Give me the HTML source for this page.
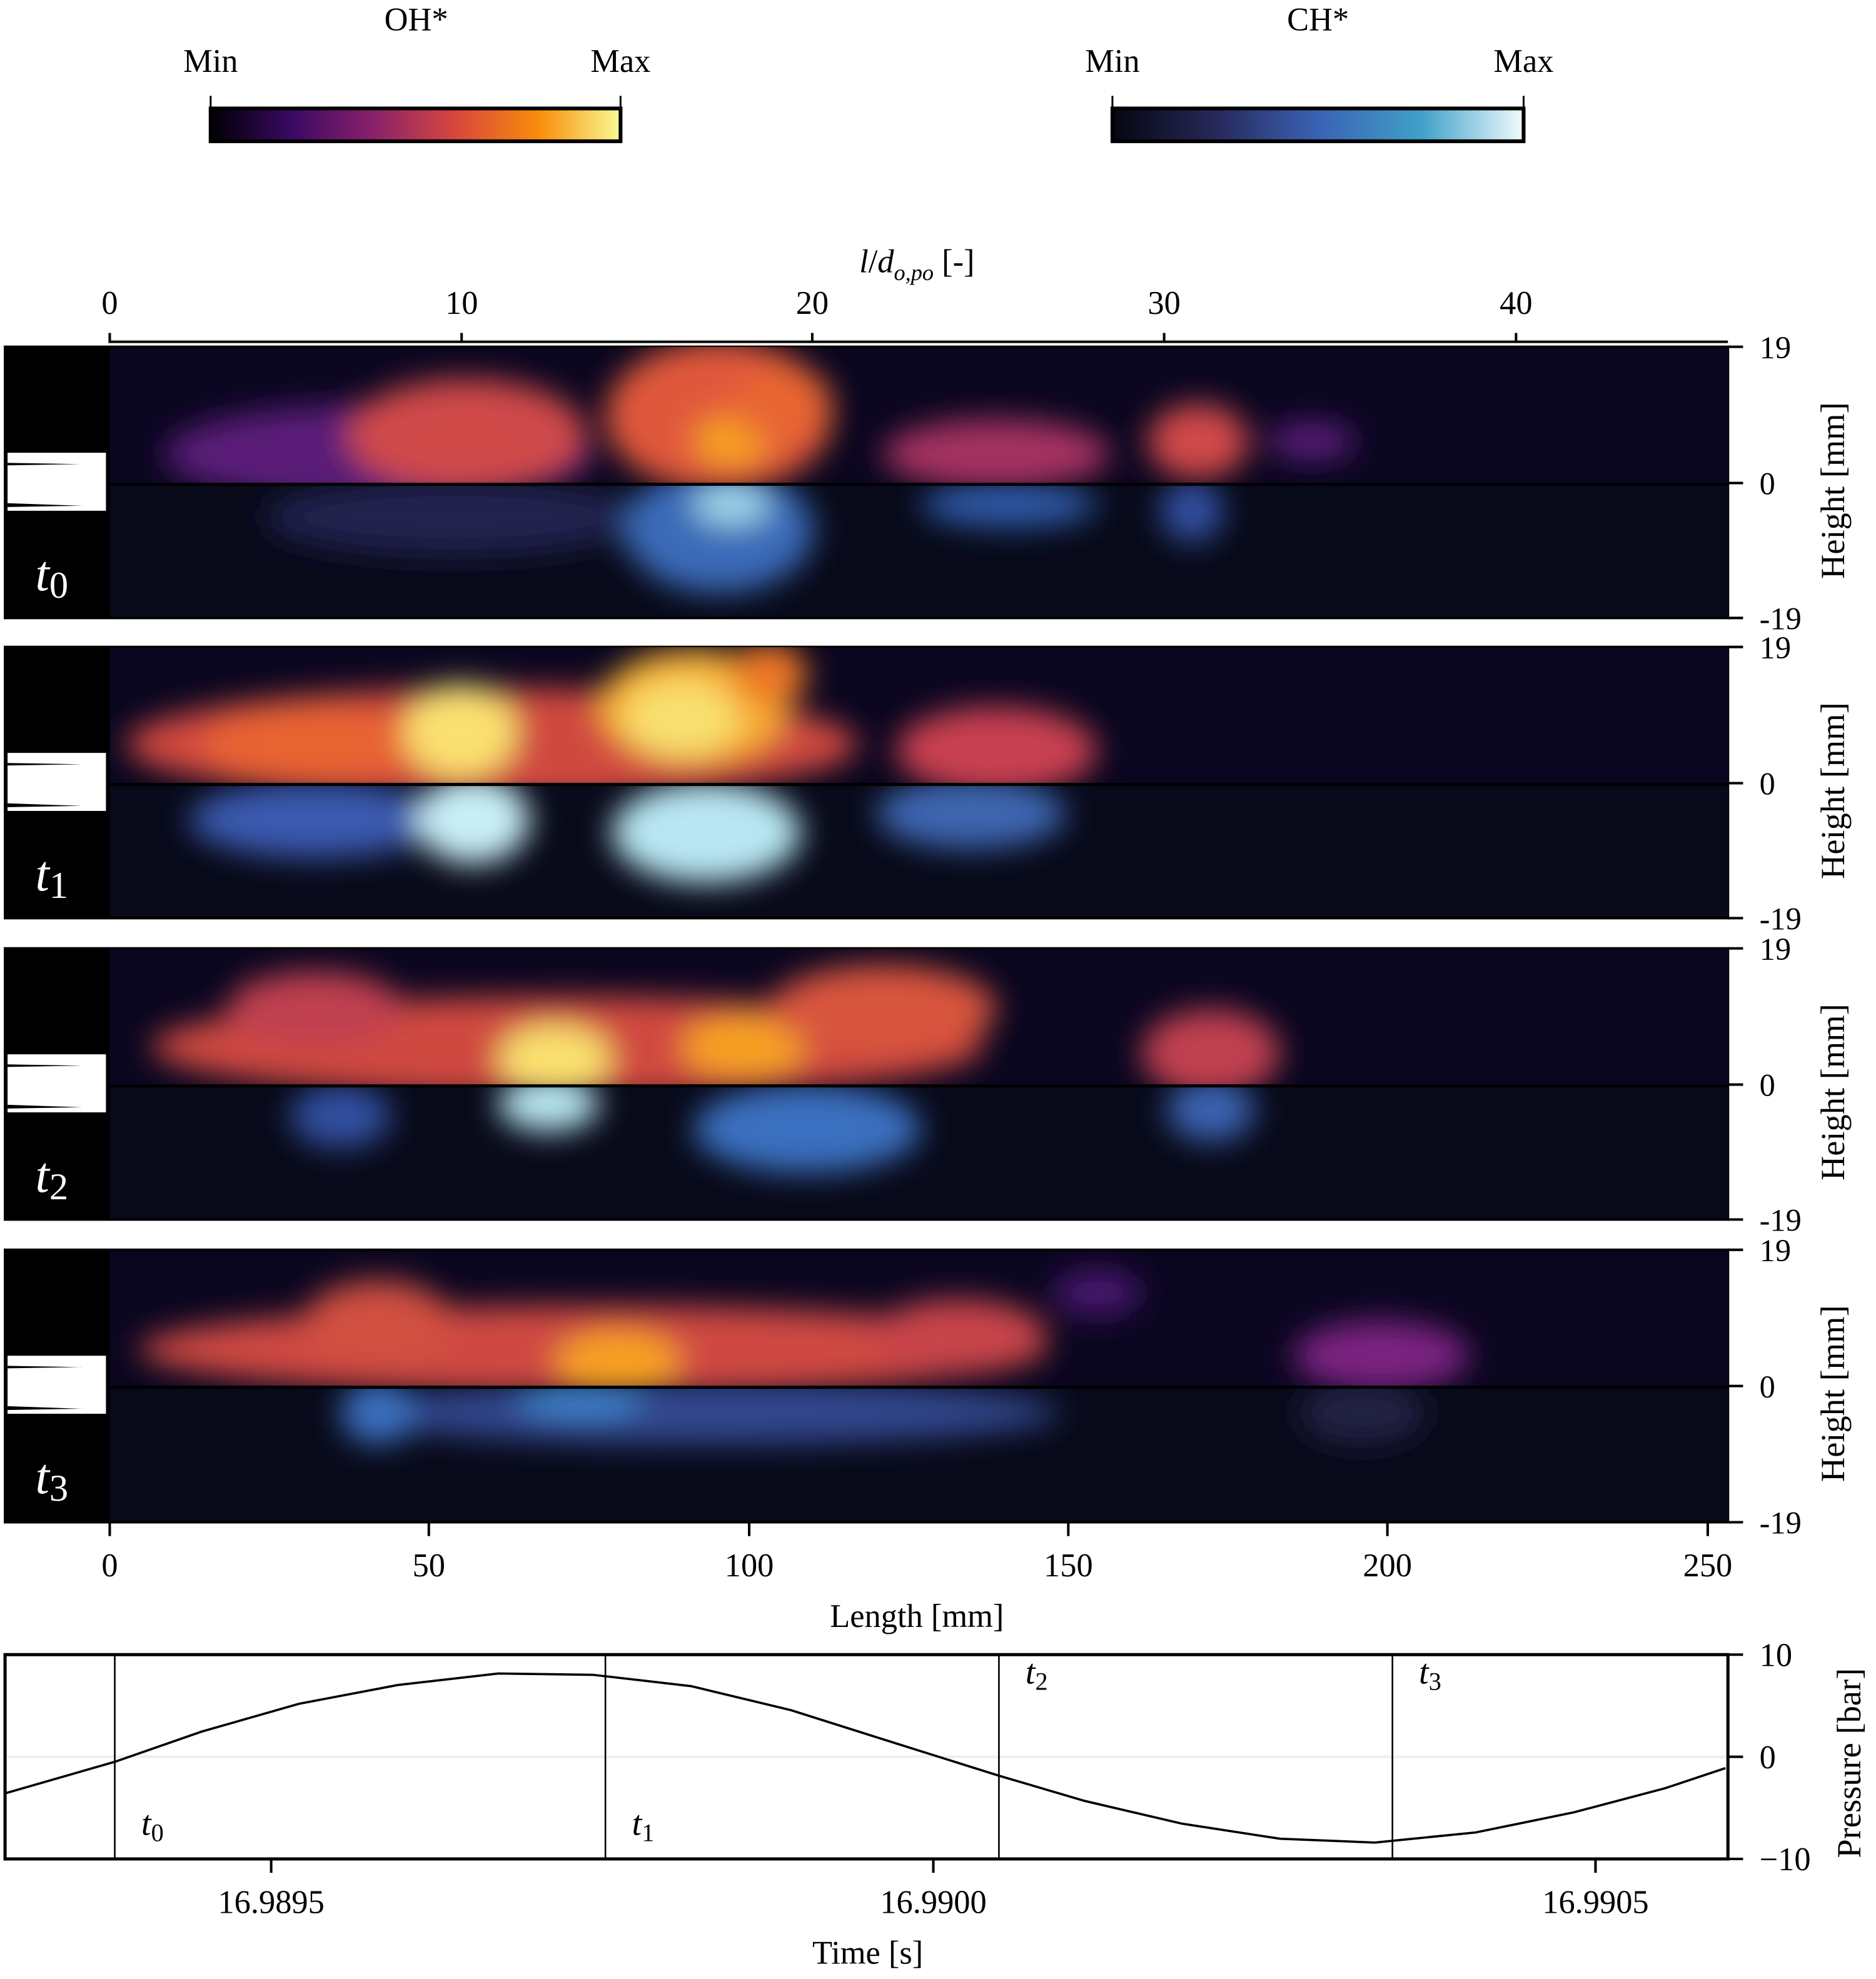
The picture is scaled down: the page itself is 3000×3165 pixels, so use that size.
<!DOCTYPE html>
<html><head><meta charset="utf-8"><style>html,body{margin:0;padding:0;background:#fff}svg{display:block}</style></head>
<body>
<svg xmlns="http://www.w3.org/2000/svg" width="3000" height="3165" viewBox="0 0 1487.4 1569.2" font-family="Liberation Serif, serif" font-size="26">
<defs>
<linearGradient id="inf" x1="0" x2="1"><stop offset="0" stop-color="#000004"/><stop offset="0.2" stop-color="#3b0964"/><stop offset="0.4" stop-color="#8a226a"/><stop offset="0.6" stop-color="#d8473c"/><stop offset="0.8" stop-color="#f98c0a"/><stop offset="1" stop-color="#f8fb94"/></linearGradient>
<linearGradient id="ch" x1="0" x2="1"><stop offset="0" stop-color="#05060f"/><stop offset="0.25" stop-color="#27285a"/><stop offset="0.5" stop-color="#3a62b4"/><stop offset="0.75" stop-color="#3fa0c8"/><stop offset="1" stop-color="#f0fbfd"/></linearGradient>
<filter id="b" x="-50%" y="-50%" width="200%" height="200%"><feGaussianBlur stdDeviation="12"/></filter>
<clipPath id="u0"><rect x="87" y="275" width="1283" height="108"/></clipPath>
<clipPath id="l0"><rect x="87" y="384" width="1283" height="106"/></clipPath>
<clipPath id="u1"><rect x="87" y="513" width="1283" height="108"/></clipPath>
<clipPath id="l1"><rect x="87" y="622" width="1283" height="106"/></clipPath>
<clipPath id="u2"><rect x="87" y="752" width="1283" height="108"/></clipPath>
<clipPath id="l2"><rect x="87" y="861" width="1283" height="106"/></clipPath>
<clipPath id="u3"><rect x="87" y="991" width="1283" height="108"/></clipPath>
<clipPath id="l3"><rect x="87" y="1100" width="1283" height="107"/></clipPath>
</defs>

<text x="330" y="24" text-anchor="middle">OH*</text>
<text x="167" y="57" text-anchor="middle">Min</text>
<text x="492" y="57" text-anchor="middle">Max</text>
<rect x="167" y="86" width="325" height="26" fill="url(#inf)" stroke="#000" stroke-width="3"/>
<line x1="167" y1="76" x2="167" y2="86" stroke="#000" stroke-width="1.5"/><line x1="492" y1="76" x2="492" y2="86" stroke="#000" stroke-width="1.5"/>
<text x="1045" y="24" text-anchor="middle">CH*</text>
<text x="882" y="57" text-anchor="middle">Min</text>
<text x="1208" y="57" text-anchor="middle">Max</text>
<rect x="882" y="86" width="326" height="26" fill="url(#ch)" stroke="#000" stroke-width="3"/>
<line x1="882" y1="76" x2="882" y2="86" stroke="#000" stroke-width="1.5"/><line x1="1208" y1="76" x2="1208" y2="86" stroke="#000" stroke-width="1.5"/>

<text x="727" y="216" text-anchor="middle"><tspan font-style="italic">l</tspan>/<tspan font-style="italic">d</tspan><tspan font-style="italic" font-size="18" dy="6">o,po</tspan><tspan dy="-6"> [-]</tspan></text>
<g text-anchor="middle"><text x="87" y="249">0</text><text x="366" y="249">10</text><text x="644" y="249">20</text><text x="923" y="249">30</text><text x="1202" y="249">40</text></g>
<line x1="87" y1="271" x2="1370" y2="271" stroke="#000" stroke-width="2"/>
<g stroke="#000" stroke-width="2"><line x1="87" y1="264" x2="87" y2="272"/><line x1="366" y1="264" x2="366" y2="272"/><line x1="644" y1="264" x2="644" y2="272"/><line x1="923" y1="264" x2="923" y2="272"/><line x1="1202" y1="264" x2="1202" y2="272"/></g>

<g>
<rect x="3" y="274" width="1368" height="217" fill="#000"/>
<rect x="87" y="276" width="1283" height="107" fill="#0a0620"/><rect x="87" y="385" width="1283" height="104" fill="#080a1a"/>
<rect x="3" y="512" width="1368" height="217" fill="#000"/>
<rect x="87" y="514" width="1283" height="107" fill="#0a0620"/><rect x="87" y="623" width="1283" height="104" fill="#080a1a"/>
<rect x="3" y="751" width="1368" height="217" fill="#000"/>
<rect x="87" y="753" width="1283" height="107" fill="#0a0620"/><rect x="87" y="862" width="1283" height="104" fill="#080a1a"/>
<rect x="3" y="990" width="1368" height="218" fill="#000"/>
<rect x="87" y="992" width="1283" height="107" fill="#0a0620"/><rect x="87" y="1101" width="1283" height="105" fill="#080a1a"/>
</g>

<g clip-path="url(#u0)"><g filter="url(#b)">
<ellipse cx="300" cy="360" rx="170" ry="40" fill="#5a1a78"/>
<ellipse cx="370" cy="345" rx="95" ry="45" fill="#cf4a48"/>
<ellipse cx="570" cy="330" rx="90" ry="60" fill="#e0583a"/>
<ellipse cx="580" cy="350" rx="30" ry="20" fill="#f8a020"/>
<ellipse cx="620" cy="320" rx="40" ry="30" fill="#e86530"/>
<ellipse cx="790" cy="360" rx="90" ry="28" fill="#a43060"/>
<ellipse cx="950" cy="350" rx="40" ry="30" fill="#d04848"/>
<ellipse cx="1040" cy="350" rx="35" ry="15" fill="#5a1a78"/>
</g></g>
<g clip-path="url(#l0)"><g filter="url(#b)">
<ellipse cx="360" cy="410" rx="150" ry="30" fill="#222450"/>
<ellipse cx="570" cy="420" rx="75" ry="50" fill="#3a6ab8"/>
<ellipse cx="580" cy="400" rx="30" ry="16" fill="#a0d8ea"/>
<ellipse cx="800" cy="400" rx="70" ry="18" fill="#2f5aa8"/>
<ellipse cx="945" cy="405" rx="25" ry="25" fill="#3050a0"/>
</g></g>

<g clip-path="url(#u1)"><g filter="url(#b)">
<ellipse cx="390" cy="590" rx="290" ry="45" fill="#d04a40"/>
<ellipse cx="250" cy="590" rx="90" ry="30" fill="#e86430"/>
<ellipse cx="365" cy="580" rx="45" ry="38" fill="#fae070"/>
<ellipse cx="550" cy="560" rx="75" ry="45" fill="#f8b030"/>
<ellipse cx="540" cy="570" rx="45" ry="30" fill="#f8e070"/>
<ellipse cx="610" cy="535" rx="30" ry="25" fill="#ee7828"/>
<ellipse cx="790" cy="595" rx="80" ry="35" fill="#c84050"/>
</g></g>
<g clip-path="url(#l1)"><g filter="url(#b)">
<ellipse cx="250" cy="650" rx="100" ry="30" fill="#3a5ab0"/>
<ellipse cx="375" cy="650" rx="45" ry="35" fill="#c8eef6"/>
<ellipse cx="560" cy="660" rx="75" ry="40" fill="#b8e6f2"/>
<ellipse cx="770" cy="645" rx="75" ry="28" fill="#3e66b0"/>
</g></g>

<g clip-path="url(#u2)"><g filter="url(#b)">
<ellipse cx="450" cy="830" rx="330" ry="40" fill="#d04a40"/>
<ellipse cx="250" cy="800" rx="70" ry="30" fill="#c04050"/>
<ellipse cx="440" cy="840" rx="45" ry="28" fill="#fae070"/>
<ellipse cx="590" cy="830" rx="50" ry="25" fill="#f6a020"/>
<ellipse cx="700" cy="800" rx="90" ry="35" fill="#d8553e"/>
<ellipse cx="960" cy="835" rx="55" ry="35" fill="#c04050"/>
</g></g>
<g clip-path="url(#l2)"><g filter="url(#b)">
<ellipse cx="270" cy="885" rx="40" ry="25" fill="#3050a0"/>
<ellipse cx="435" cy="875" rx="40" ry="22" fill="#b8e6f2"/>
<ellipse cx="640" cy="895" rx="90" ry="35" fill="#3a70c0"/>
<ellipse cx="960" cy="880" rx="35" ry="25" fill="#3a62b0"/>
</g></g>

<g clip-path="url(#u3)"><g filter="url(#b)">
<ellipse cx="470" cy="1070" rx="360" ry="35" fill="#cf4a42"/>
<ellipse cx="300" cy="1050" rx="60" ry="35" fill="#d05040"/>
<ellipse cx="490" cy="1080" rx="50" ry="25" fill="#f8a020"/>
<ellipse cx="760" cy="1060" rx="70" ry="30" fill="#c84448"/>
<ellipse cx="870" cy="1025" rx="35" ry="18" fill="#4a1670"/>
<ellipse cx="1095" cy="1075" rx="70" ry="28" fill="#7a2280"/>
</g></g>
<g clip-path="url(#l3)"><g filter="url(#b)">
<ellipse cx="560" cy="1120" rx="280" ry="25" fill="#30478e"/>
<ellipse cx="460" cy="1110" rx="50" ry="15" fill="#3e80c8"/>
<ellipse cx="300" cy="1120" rx="30" ry="25" fill="#3a70c0"/>
<ellipse cx="1080" cy="1120" rx="50" ry="25" fill="#222445"/>
</g></g>

<g stroke="#000" stroke-width="2.5"><line x1="87" y1="384" x2="1370" y2="384"/><line x1="87" y1="622" x2="1370" y2="622"/><line x1="87" y1="861" x2="1370" y2="861"/><line x1="87" y1="1100" x2="1370" y2="1100"/></g>
<g fill="#fff">
<rect x="6" y="359" width="78" height="46"/><rect x="6" y="597" width="78" height="46"/><rect x="6" y="836" width="78" height="46"/><rect x="6" y="1075" width="78" height="46"/>
</g>
<g fill="#000">
<path d="M6 367 L65 368 L6 369Z"/><path d="M6 399 L65 401 L6 402Z"/>
<path d="M6 605 L65 606 L6 607Z"/><path d="M6 637 L65 639 L6 640Z"/>
<path d="M6 844 L65 845 L6 846Z"/><path d="M6 876 L65 878 L6 879Z"/>
<path d="M6 1083 L65 1084 L6 1085Z"/><path d="M6 1115 L65 1117 L6 1118Z"/>
</g>
<g fill="#fff" font-size="40" font-style="italic">
<text x="28" y="468">t<tspan font-style="normal" font-size="30" dy="6">0</tspan></text>
<text x="28" y="706">t<tspan font-style="normal" font-size="30" dy="6">1</tspan></text>
<text x="28" y="945">t<tspan font-style="normal" font-size="30" dy="6">2</tspan></text>
<text x="28" y="1184">t<tspan font-style="normal" font-size="30" dy="6">3</tspan></text>
</g>

<g stroke="#000" stroke-width="2">
<line x1="1370" y1="275" x2="1382" y2="275"/><line x1="1370" y1="383" x2="1382" y2="383"/><line x1="1370" y1="490" x2="1382" y2="490"/>
<line x1="1370" y1="513" x2="1382" y2="513"/><line x1="1370" y1="621" x2="1382" y2="621"/><line x1="1370" y1="728" x2="1382" y2="728"/>
<line x1="1370" y1="752" x2="1382" y2="752"/><line x1="1370" y1="860" x2="1382" y2="860"/><line x1="1370" y1="967" x2="1382" y2="967"/>
<line x1="1370" y1="991" x2="1382" y2="991"/><line x1="1370" y1="1099" x2="1382" y2="1099"/><line x1="1370" y1="1207" x2="1382" y2="1207"/>
</g>
<g font-size="25">
<text x="1395" y="284">19</text><text x="1395" y="392">0</text><text x="1395" y="499">-19</text>
<text x="1395" y="522">19</text><text x="1395" y="630">0</text><text x="1395" y="737">-19</text>
<text x="1395" y="761">19</text><text x="1395" y="869">0</text><text x="1395" y="976">-19</text>
<text x="1395" y="1000">19</text><text x="1395" y="1108">0</text><text x="1395" y="1216">-19</text>
</g>
<g text-anchor="middle" font-size="27">
<text transform="translate(1462 389) rotate(-90)">Height [mm]</text>
<text transform="translate(1462 627) rotate(-90)">Height [mm]</text>
<text transform="translate(1462 866) rotate(-90)">Height [mm]</text>
<text transform="translate(1462 1105) rotate(-90)">Height [mm]</text>
</g>

<g stroke="#000" stroke-width="2"><line x1="87" y1="1207" x2="87" y2="1218"/><line x1="340" y1="1207" x2="340" y2="1218"/><line x1="594" y1="1207" x2="594" y2="1218"/><line x1="847" y1="1207" x2="847" y2="1218"/><line x1="1100" y1="1207" x2="1100" y2="1218"/><line x1="1354" y1="1207" x2="1354" y2="1218"/></g>
<g text-anchor="middle"><text x="87" y="1250">0</text><text x="340" y="1250">50</text><text x="594" y="1250">100</text><text x="847" y="1250">150</text><text x="1100" y="1250">200</text><text x="1354" y="1250">250</text>
<text x="727" y="1290">Length [mm]</text></g>

<line x1="4" y1="1393" x2="1368" y2="1393" stroke="#eee" stroke-width="2"/>
<g stroke="#000" stroke-width="1.3"><line x1="91" y1="1312" x2="91" y2="1474"/><line x1="480" y1="1312" x2="480" y2="1474"/><line x1="792" y1="1312" x2="792" y2="1474"/><line x1="1104" y1="1312" x2="1104" y2="1474"/></g>
<polyline fill="none" stroke="#000" stroke-width="1.8" points="4,1422 91,1397 160,1373 237,1351 316,1336 395,1327 470,1328 548,1337 627,1356 706,1381 792,1408 860,1428 937,1446 1015,1458 1090,1461 1170,1453 1248,1437 1320,1418 1368,1402"/>
<rect x="4" y="1312" width="1366" height="162" fill="none" stroke="#000" stroke-width="2.5"/>
<g stroke="#000" stroke-width="2"><line x1="1370" y1="1312" x2="1382" y2="1312"/><line x1="1370" y1="1393" x2="1382" y2="1393"/><line x1="1370" y1="1474" x2="1382" y2="1474"/>
<line x1="215" y1="1474" x2="215" y2="1485"/><line x1="740" y1="1474" x2="740" y2="1485"/><line x1="1265" y1="1474" x2="1265" y2="1485"/></g>
<text x="1395" y="1321">10</text><text x="1395" y="1402">0</text><text x="1395" y="1483">−10</text>
<text transform="translate(1475 1398) rotate(-90)" text-anchor="middle" font-size="27">Pressure [bar]</text>
<g text-anchor="middle"><text x="215" y="1517">16.9895</text><text x="740" y="1517">16.9900</text><text x="1265" y="1517">16.9905</text><text x="688" y="1557">Time [s]</text></g>
<g font-style="italic" font-size="28">
<text x="112" y="1455">t<tspan font-style="normal" font-size="20" dy="5">0</tspan></text>
<text x="501" y="1455">t<tspan font-style="normal" font-size="20" dy="5">1</tspan></text>
<text x="813" y="1335">t<tspan font-style="normal" font-size="20" dy="5">2</tspan></text>
<text x="1125" y="1335">t<tspan font-style="normal" font-size="20" dy="5">3</tspan></text>
</g>
</svg>
</body></html>
